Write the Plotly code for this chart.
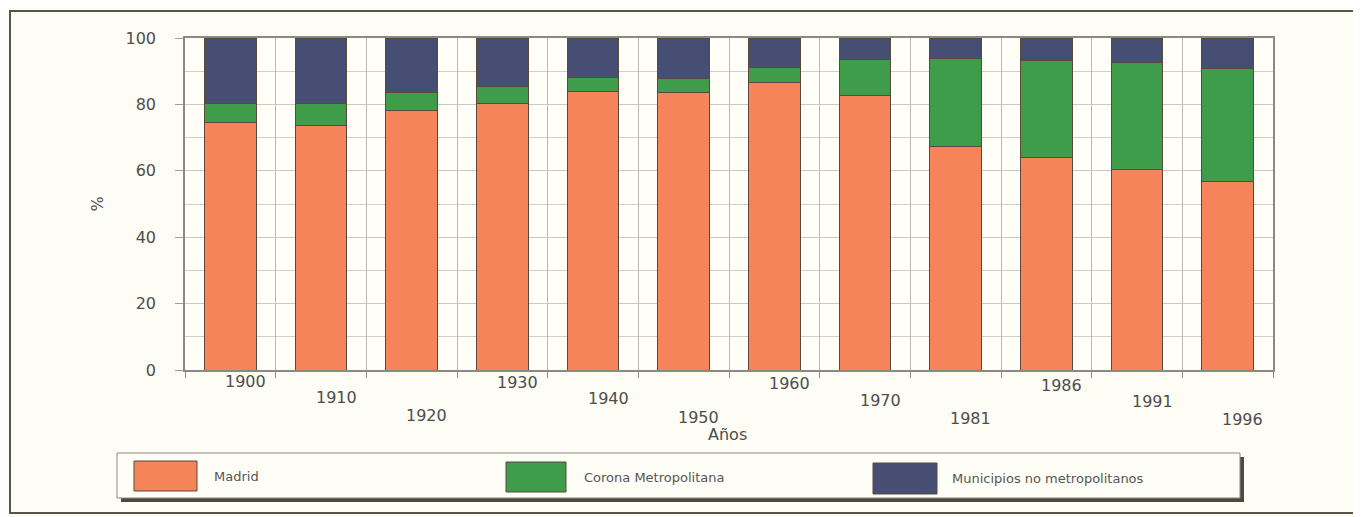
import plotly.graph_objects as go

years = ["1900", "1910", "1920", "1930", "1940", "1950", "1960", "1970", "1981", "1986", "1991", "1996"]
madrid = [74.5, 73.7, 78.3, 80.2, 83.9, 83.6, 86.7, 82.6, 67.3, 63.9, 60.4, 56.8]
corona = [5.9, 6.7, 5.2, 5.2, 4.2, 4.1, 4.5, 11.0, 26.4, 29.2, 32.3, 34.0]
municipios = [round(100 - m - c, 1) for m, c in zip(madrid, corona)]
series_names = ["Madrid", "Corona Metropolitana", "Municipios no metropolitanos"]
colors = ["#F5845A", "#3E9C4A", "#474E74"]

OFF = 8  # page body margin
W, H = 1361 - OFF, 517 - OFF
L, R, T, B = 177, 88, 30, 147
PW, PH = W - L - R, H - T - B


def px(x):
    return (x - OFF - L) / PW


def py(y):
    return (H - B - (y - OFF)) / PH


fig = go.Figure()
for name, vals, col in zip(series_names, [madrid, corona, municipios], colors):
    fig.add_trace(go.Bar(
        x=years, y=vals, name=name, marker=dict(color=col, line=dict(color="#5a4838", width=1)),
        width=0.57, showlegend=False))

shapes = []
annotations = []

# outer frame
shapes.append(dict(type="rect", xref="paper", yref="paper", x0=px(10), x1=px(1355), y0=py(513), y1=py(11),
                   line=dict(color="#55554a", width=2), fillcolor="rgba(0,0,0,0)", layer="below"))

# staggered year labels (category index positions)
for i, yr in enumerate(years):
    row = i % 3
    ypix = [381, 397, 415][row] + i * 0.45
    annotations.append(dict(x=i, xref="x", yref="paper", y=py(ypix), xshift=15, text=yr, showarrow=False,
                            xanchor="center", yanchor="middle",
                            font=dict(family="DejaVu Sans", size=16, color="#4d4d4d")))

annotations.append(dict(x=px(727), xref="paper", yref="paper", y=py(434), text="Años", showarrow=False,
                        xanchor="center", yanchor="middle", font=dict(family="DejaVu Sans", size=16, color="#4d4d4d")))

# legend box with shadow
shapes.append(dict(type="rect", xref="paper", yref="paper", x0=px(121), x1=px(1244), y0=py(502), y1=py(457),
                   line=dict(width=0), fillcolor="#4a4a40", layer="above"))
shapes.append(dict(type="rect", xref="paper", yref="paper", x0=px(117), x1=px(1240), y0=py(498), y1=py(453),
                   line=dict(color="#8a8a80", width=1), fillcolor="#FEFEF6", layer="above"))
legend_items = [(134, 197, 461, 491, 212), (506, 566, 462, 492, 582), (873, 937, 463, 494, 950)]
for (x0, x1, y0, y1, tx), name, col in zip(legend_items, series_names, colors):
    shapes.append(dict(type="rect", xref="paper", yref="paper", x0=px(x0), x1=px(x1), y0=py(y1), y1=py(y0),
                       line=dict(color="#5a4838", width=1), fillcolor=col, layer="above"))
    annotations.append(dict(x=px(tx), xref="paper", yref="paper", y=py((y0 + y1) / 2), text=name, showarrow=False,
                            xanchor="left", yanchor="middle",
                            font=dict(family="DejaVu Sans", size=13, color="#555555")))

fig.update_layout(
    width=W, height=H, margin=dict(l=L, r=R, t=T, b=B),
    barmode="stack", bargap=0.43,
    paper_bgcolor="#FDFDF5", plot_bgcolor="#FFFFF7",
    shapes=shapes, annotations=annotations,
    font=dict(family="DejaVu Sans", color="#4d4d4d"),
)
fig.update_xaxes(type="category", range=[-0.5, len(years) - 0.5], autorange=False,
                 showticklabels=False, showline=True, linecolor="#8a8a85", linewidth=1.5,
                 mirror=True, ticks="outside", ticklen=6, tickcolor="#8a8a85", tickson="boundaries",
                 showgrid=True, gridcolor="#b9b9b0", gridwidth=1)
fig.update_yaxes(range=[0, 100], dtick=20, tick0=0, showgrid=True, gridcolor="#c9c9c0",
                 minor=dict(dtick=10, showgrid=True, gridcolor="#cfcfc7", ticks=""),
                 showline=True, linecolor="#8a8a85", linewidth=1.5, mirror=True,
                 ticks="outside", ticklen=8, tickcolor="#a0a09a", ticklabelstandoff=16,
                 tickfont=dict(family="DejaVu Sans", size=16, color="#4d4d4d"),
                 title=dict(text="%", font=dict(family="DejaVu Sans", size=16, color="#4d4d4d"), standoff=18),
                 zeroline=False)

fig.write_html("out.html")
